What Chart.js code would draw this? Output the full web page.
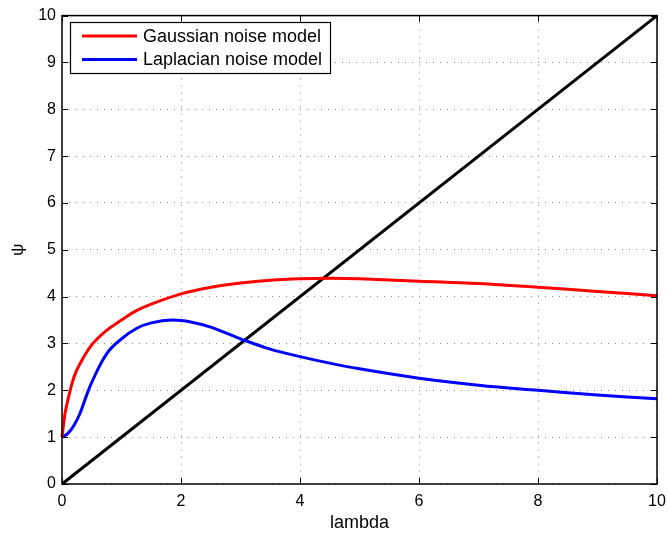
<!DOCTYPE html>
<html>
<head>
<meta charset="utf-8">
<script src="https://cdn.jsdelivr.net/npm/chart.js@4.4.1/dist/chart.umd.min.js"></script>
<style>
html,body{margin:0;padding:0;background:#fff;}
#wrap{width:668px;height:534px;}
</style>
</head>
<body>
<div id="wrap"><canvas id="c" width="668" height="534"></canvas></div>
<script>
const gaussX = [0, 0.05, 0.1, 0.2, 0.3, 0.5, 0.75, 1, 1.25, 1.5, 2, 2.5, 3, 3.5, 4, 4.5, 5, 6, 7, 8, 9, 10];
const gaussY = [1.0, 1.5, 1.8, 2.28, 2.56, 2.97, 3.28, 3.5, 3.7, 3.84, 4.06, 4.2, 4.29, 4.35, 4.38, 4.39, 4.38, 4.33, 4.28, 4.2, 4.11, 4.02];
const laplaceX = [0, 0.1, 0.2, 0.3, 0.4, 0.5, 0.75, 1, 1.25, 1.5, 1.85, 2.2, 2.5, 3, 3.5, 4, 4.5, 5, 6, 7, 8, 9, 10];
const laplaceY = [1.0, 1.08, 1.25, 1.5, 1.85, 2.17, 2.78, 3.1, 3.32, 3.44, 3.5, 3.45, 3.35, 3.1, 2.88, 2.72, 2.58, 2.46, 2.26, 2.11, 2.0, 1.9, 1.82];
const lineX = [0, 10];
const lineY = [0, 10];
const xTicks = [0, 2, 4, 6, 8, 10];
const yTicks = [0, 1, 2, 3, 4, 5, 6, 7, 8, 9, 10];
const seriesLabels = ['Gaussian noise model', 'Laplacian noise model'];

const pts = (xs, ys) => xs.map((x, i) => ({x: x, y: ys[i]}));

const FONT = 'Liberation Sans, Arial, Helvetica, sans-serif';

const boxPlugin = {
  id: 'box',
  afterDatasetsDraw(chart) {
    const {ctx, chartArea: a, scales} = chart;
    ctx.save();
    // inward ticks
    ctx.strokeStyle = '#000';
    ctx.lineWidth = 1;
    ctx.beginPath();
    xTicks.forEach(v => {
      const px = Math.round(scales.x.getPixelForValue(v)) + 0.5;
      ctx.moveTo(px, a.bottom); ctx.lineTo(px, a.bottom - 6);
      ctx.moveTo(px, a.top); ctx.lineTo(px, a.top + 6);
    });
    yTicks.forEach(v => {
      const py = Math.round(scales.y.getPixelForValue(v)) + 0.5;
      ctx.moveTo(a.left, py); ctx.lineTo(a.left + 6, py);
      ctx.moveTo(a.right, py); ctx.lineTo(a.right - 6, py);
    });
    ctx.stroke();
    // frame
    ctx.lineWidth = 1.5;
    ctx.strokeRect(a.left, a.top, a.right - a.left, a.bottom - a.top);
    // legend
    const lx = 70, ly = 22, lw = 260, lh = 51;
    ctx.fillStyle = '#fff';
    ctx.fillRect(lx, ly, lw, lh);
    ctx.lineWidth = 1.2;
    ctx.strokeStyle = '#000';
    ctx.strokeRect(lx + 0.5, ly + 0.5, lw, lh);
    ctx.font = '18px ' + FONT;
    ctx.textBaseline = 'middle';
    ctx.textAlign = 'left';
    [0, 1].forEach(i => {
      const ds = chart.data.datasets[i];
      const y = ly + 14 + i * 23.5;
      ctx.strokeStyle = ds.borderColor;
      ctx.lineWidth = 3;
      ctx.beginPath();
      ctx.moveTo(82, y); ctx.lineTo(137, y);
      ctx.stroke();
      ctx.fillStyle = '#000';
      ctx.fillText(ds.label, 143, y + 1);
    });
    ctx.restore();
  }
};

new Chart(document.getElementById('c'), {
  type: 'scatter',
  data: {
    datasets: [
      {label: seriesLabels[0], data: pts(gaussX, gaussY), showLine: true, borderColor: '#ff0000', borderWidth: 3, pointRadius: 0, tension: 0.4, fill: false},
      {label: seriesLabels[1], data: pts(laplaceX, laplaceY), showLine: true, borderColor: '#0000ff', borderWidth: 3, pointRadius: 0, tension: 0.4, fill: false},
      {label: 'y = lambda', data: pts(lineX, lineY), showLine: true, borderColor: '#000000', borderWidth: 3, pointRadius: 0, tension: 0, fill: false}
    ]
  },
  options: {
    responsive: false,
    animation: false,
    clip: false,
    layout: {padding: {left: 0, right: 11, top: 14, bottom: 0}},
    plugins: {legend: {display: false}, tooltip: {enabled: false}},
    scales: {
      x: {
        type: 'linear', min: 0, max: 10,
        afterBuildTicks: s => { s.ticks = xTicks.map(v => ({value: v})); },
        afterFit: s => { s.height = 50; s.paddingRight = 0; s.paddingLeft = 0; },
        ticks: {color: '#000', font: {family: FONT, size: 16}, padding: 8, maxRotation: 0},
        grid: {color: '#888', lineWidth: 1, drawTicks: false},
        border: {display: false, dash: [1, 6]},
        title: {display: true, text: 'lambda', color: '#000', font: {family: FONT, size: 18}, padding: {top: 0, bottom: 0}}
      },
      y: {
        type: 'linear', min: 0, max: 10,
        afterBuildTicks: s => { s.ticks = yTicks.map(v => ({value: v})); },
        afterFit: s => { s.width = 62; },
        ticks: {color: '#000', font: {family: FONT, size: 16}, padding: 6},
        grid: {color: '#888', lineWidth: 1, drawTicks: false},
        border: {display: false, dash: [1, 6]},
        title: {display: true, text: 'ψ', color: '#000', font: {family: FONT, size: 17}, padding: {top: 8, bottom: 0}}
      }
    }
  },
  plugins: [boxPlugin]
});
</script>
</body>
</html>
